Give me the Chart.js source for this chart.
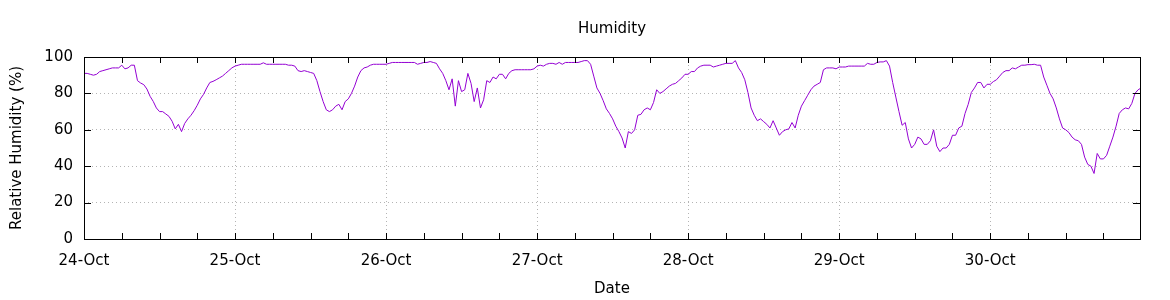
<!DOCTYPE html>
<html>
<head>
<meta charset="utf-8">
<title>Humidity</title>
<script src="https://cdn.jsdelivr.net/npm/chart.js@4.4.1/dist/chart.umd.min.js"></script>
<style>
  html, body { margin: 0; padding: 0; background: #fff; }
  canvas { display: block; }
</style>
</head>
<body>
<canvas id="humChart" width="1170" height="300"></canvas>
<script>
// half-hourly readings, one list per day (hour 0, 0.5, 1, ...)
const dayLabels = ['24-Oct', '25-Oct', '26-Oct', '27-Oct', '28-Oct', '29-Oct', '30-Oct'];

const oct24 = [91, 91, 90.5, 90, 90.5, 92, 92.5, 93, 93.5, 94, 94, 94, 95.5, 93.5, 94, 95.5, 95.5, 87, 85.7, 84.8,
    82.4, 78.4, 75.6, 72, 70, 70, 68.7, 67.4, 64.7, 60.5, 63, 59, 63.5, 66, 68, 70.5, 73.5, 77, 79.5, 83,
    86, 86.6, 87.5, 88.5, 89.5, 91, 92.5, 94];
const oct25 = [95, 95.5, 96, 96, 96, 96, 96, 96, 96, 96.8, 96, 96, 96, 96, 96, 96, 96, 95.5, 95.5, 95,
    92.5, 92, 92.5, 92, 91.5, 91, 87, 81, 75.5, 71, 70, 71, 73, 74, 71, 75.5, 77, 80, 84, 89,
    92.5, 94, 94.5, 95.5, 96, 96, 96, 96];
const oct26 = [96, 96.5, 97, 97, 97, 97, 97, 97, 97, 97, 96, 96.5, 97, 97, 97.5, 97, 96.5, 93.5, 91, 87,
    82, 88, 73, 87, 81, 82, 91, 85.5, 75.5, 83, 72, 76.5, 87, 86, 89, 88, 90.5, 90.5, 88, 91,
    92.5, 93, 93, 93, 93, 93, 93, 93.5];
const oct27 = [95, 95.5, 95, 96, 96.5, 96.5, 96, 97, 96, 97, 97, 97, 97, 97, 97.5, 98, 98, 96, 89.5, 83,
    80, 76, 71.5, 69, 66, 62, 59, 55.5, 50, 59, 58, 60, 68, 68.5, 71, 72, 71, 75, 82, 80,
    81, 82.5, 84, 85, 85.5, 87, 88.5, 90.5];
const oct28 = [90.5, 92, 92, 94, 95, 95.5, 95.5, 95.5, 94.5, 95, 95.5, 96, 96.5, 96.5, 96.5, 98, 94, 91.5, 87.5, 80.5,
    72, 68, 65, 66, 64.5, 63, 61, 65, 61, 57, 59, 60, 60.5, 64, 61, 68, 73, 76, 79, 82,
    84, 85, 86, 93, 94, 94, 94, 93.5];
const oct29 = [94.5, 94.5, 94.5, 95, 95, 95, 95, 95, 95, 96.5, 96, 96, 97, 97.3, 97.3, 98, 95, 86, 78, 70,
    62.5, 64, 55, 50, 52, 56, 55, 52, 52, 54, 60, 51, 48, 50, 50, 52, 57, 57, 61, 62,
    69, 74, 80.5, 83, 86, 86, 83, 85];
const oct30 = [85, 86.5, 87.5, 89.5, 91.5, 92.5, 92.5, 94, 93.5, 94.5, 95.5, 95.5, 95.8, 95.8, 96, 95.5, 95.5, 89, 84.5, 80,
    77, 72, 66, 61, 60, 58.5, 56, 54.5, 54, 52, 45, 41, 40, 36, 47, 44, 44, 46, 51, 56,
    62, 69, 71, 72, 71.5, 74.5, 80, 82, 83];

const days = [oct24, oct25, oct26, oct27, oct28, oct29, oct30];
const yTicks = [0, 20, 40, 60, 80, 100];

// x value = hours since 24-Oct 00:00
const points = [];
days.forEach((vals, d) => {
    vals.forEach((v, i) => points.push({ x: d * 24 + i * 0.5, y: v }));
});

const FONT = { family: 'DejaVu Sans', size: 15 };
const hourTicks = [];
for (let h = 0; h < 168; h += 6) hourTicks.push(h);

// gnuplot style frame with inward ticks on all four sides, title centred on the plot
const framePlugin = {
    id: 'frame',
    afterDraw(chart) {
        const { ctx, chartArea: a, scales } = chart;
        ctx.save();
        ctx.strokeStyle = '#000';
        ctx.lineWidth = 1;
        ctx.beginPath();
        hourTicks.forEach(h => {
            const x = Math.round(scales.x.getPixelForValue(h)) + 0.5;
            ctx.moveTo(x, a.bottom);
            ctx.lineTo(x, a.bottom - 6);
            ctx.moveTo(x, a.top);
            ctx.lineTo(x, a.top + 6);
        });
        yTicks.forEach(v => {
            const y = Math.round(scales.y.getPixelForValue(v)) + 0.5;
            ctx.moveTo(a.left, y);
            ctx.lineTo(a.left + 7, y);
            ctx.moveTo(a.right, y);
            ctx.lineTo(a.right - 7, y);
        });
        ctx.stroke();
        ctx.strokeRect(Math.round(a.left) + 0.5, Math.round(a.top) + 0.5,
            Math.round(a.right - a.left), Math.round(a.bottom - a.top));

        ctx.fillStyle = '#000';
        ctx.font = '15px "DejaVu Sans"';
        ctx.textAlign = 'center';
        ctx.textBaseline = 'middle';
        ctx.fillText('Humidity', (a.left + a.right) / 2, 29);
        ctx.restore();
    }
};

new Chart(document.getElementById('humChart'), {
    type: 'line',
    data: {
        datasets: [{
            label: 'Humidity',
            data: points,
            borderColor: '#9400d3',
            borderWidth: 1,
            pointRadius: 0,
            tension: 0,
            fill: false
        }]
    },
    options: {
        responsive: false,
        animation: false,
        devicePixelRatio: 1,
        layout: { padding: { left: 0, right: 30, top: 57, bottom: 0 } },
        plugins: {
            legend: { display: false },
            tooltip: { enabled: false },
            title: { display: false }
        },
        scales: {
            x: {
                type: 'linear',
                min: 0,
                max: 167.8,
                afterBuildTicks: scale => { scale.ticks = hourTicks.map(v => ({ value: v })); },
                afterFit: scale => { scale.height = 61; },
                ticks: {
                    autoSkip: false,
                    maxRotation: 0,
                    padding: 13,
                    color: '#000',
                    font: FONT,
                    callback: v => (v % 24 === 0 ? dayLabels[v / 24] : '')
                },
                grid: {
                    drawTicks: false,
                    lineWidth: 1,
                    color: c => (c.tick && c.tick.value % 24 === 0 && c.tick.value > 0 ? '#b4b4b4' : 'rgba(0,0,0,0)')
                },
                border: { display: false, dash: [1, 3] },
                title: {
                    display: true,
                    text: 'Date',
                    color: '#000',
                    font: FONT,
                    padding: { top: 0, bottom: 2 }
                }
            },
            y: {
                min: 0,
                max: 100,
                afterBuildTicks: scale => { scale.ticks = yTicks.map(v => ({ value: v })); },
                afterFit: scale => { scale.width = 84; },
                ticks: {
                    padding: 11,
                    color: '#000',
                    font: FONT
                },
                grid: {
                    drawTicks: false,
                    lineWidth: 1,
                    color: c => (c.tick && c.tick.value > 0 && c.tick.value < 100 ? '#b4b4b4' : 'rgba(0,0,0,0)')
                },
                border: { display: false, dash: [1, 3] },
                title: {
                    display: true,
                    text: 'Relative Humidity (%)',
                    color: '#000',
                    font: FONT,
                    padding: { top: 8, bottom: 0 }
                }
            }
        }
    },
    plugins: [framePlugin]
});
</script>
</body>
</html>
